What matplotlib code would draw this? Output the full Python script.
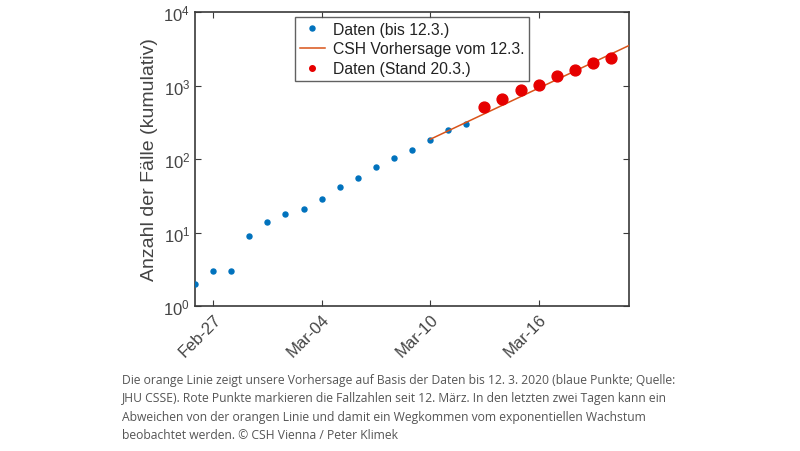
import datetime as dt

import matplotlib as mpl
mpl.use("Agg")
import matplotlib.dates as mdates
import matplotlib.pyplot as plt

# cases up to 12.3. (blue)
blue_dates = [dt.datetime(2020, 2, 26) + dt.timedelta(days=i) for i in range(16)]
blue_cases = [2, 3, 3, 9, 14, 18, 21, 29, 41, 55, 79, 104, 131, 182, 246, 302]

# forecast line from 12.3. (endpoints, straight in log space)
fc_dates = [dt.datetime(2020, 3, 10), dt.datetime(2020, 3, 21)]
fc_cases = [185, 3500]

# cases as of 20.3. (red)
red_dates = [dt.datetime(2020, 3, 13) + dt.timedelta(days=i) for i in range(8)]
red_cases = [504, 655, 860, 1018, 1332, 1646, 2013, 2388]

tick_dates = [dt.datetime(2020, 2, 27), dt.datetime(2020, 3, 4),
              dt.datetime(2020, 3, 10), dt.datetime(2020, 3, 16)]

caption = (
    "Die orange Linie zeigt unsere Vorhersage auf Basis der Daten bis 12. 3. 2020 (blaue Punkte; Quelle:\n"
    "JHU CSSE). Rote Punkte markieren die Fallzahlen seit 12. März. In den letzten zwei Tagen kann ein\n"
    "Abweichen von der orangen Linie und damit ein Wegkommen vom exponentiellen Wachstum\n"
    "beobachtet werden. © CSH Vienna / Peter Klimek"
)

plt.rcParams["font.family"] = ["Liberation Sans", "DejaVu Sans"]
txt = "#444444"
ax_col = "#3a3a3a"

fig = plt.figure(figsize=(8.0, 4.52), dpi=100, facecolor="white")
ax = fig.add_axes([195 / 800, 1 - 307 / 452, 434 / 800, 294 / 452])

ax.plot(blue_dates, blue_cases, ls="none", marker="o", ms=3.6, color="#0072BD",
        label="Daten (bis 12.3.)", zorder=3)
ax.plot(fc_dates, fc_cases, color="#D95319", lw=1.1, label="CSH Vorhersage vom 12.3.", zorder=4)
ax.plot(red_dates, red_cases, ls="none", marker="o", ms=7.8, color="#E60000",
        label="Daten (Stand 20.3.)", zorder=5)

ax.set_yscale("log")
ax.set_ylim(1, 1e4)
ax.set_xlim(dt.datetime(2020, 2, 26), dt.datetime(2020, 3, 21))
ax.set_xticks(tick_dates)
ax.xaxis.set_major_formatter(mdates.DateFormatter("%b-%d"))
ax.yaxis.set_minor_locator(mpl.ticker.NullLocator())
ax.tick_params(which="both", direction="in", top=True, right=True, length=4,
               width=0.8, color=ax_col, labelcolor=txt, labelsize=12)
for lab in ax.get_xticklabels():
    lab.set_rotation(45)
    lab.set_ha("right")
    lab.set_rotation_mode("anchor")
for sp in ax.spines.values():
    sp.set_color(ax_col)
    sp.set_linewidth(1.2)

ax.set_ylabel("Anzahl der Fälle (kumulativ)", fontsize=14, color=txt, labelpad=4)

leg = ax.legend(loc="upper center", bbox_to_anchor=(0.5, 0.983), fontsize=11.3,
                frameon=True, fancybox=False, handlelength=1.6, handletextpad=0.5,
                borderpad=0.3, labelspacing=0.3, borderaxespad=0)
leg.get_frame().set_edgecolor(ax_col)
leg.get_frame().set_linewidth(1.0)
leg.legend_handles[2].set_markersize(4)
for t in leg.get_texts():
    t.set_color("#222222")

fig.text(122 / 800, 1 - 374 / 452, caption, fontsize=8.7, color="#555555",
         family=["Open Sans", "DejaVu Sans"], va="top", ha="left", linespacing=1.55)

fig.savefig("out.png", dpi=100, facecolor="white")
